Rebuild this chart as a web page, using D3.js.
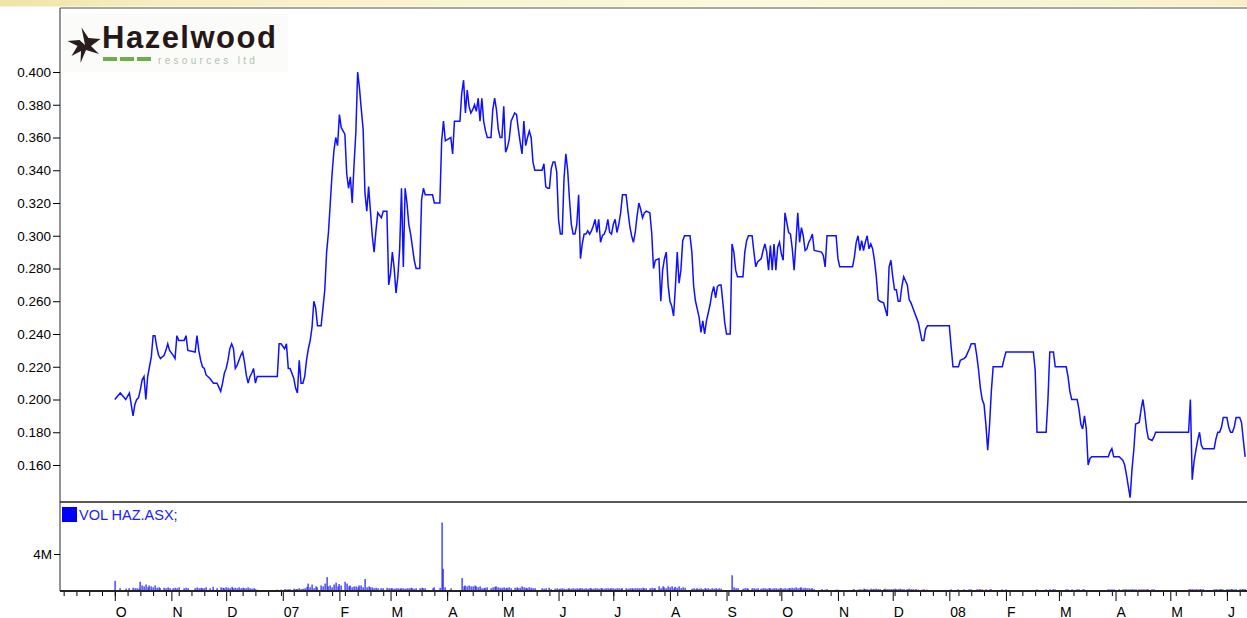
<!DOCTYPE html>
<html><head><meta charset="utf-8">
<script src="https://cdn.jsdelivr.net/npm/d3@7"></script>
<style>html,body{margin:0;padding:0;background:#fff;overflow:hidden}</style>
</head><body>
<svg id="chart" width="1247" height="618"></svg>
<script>
// ---------------- DATA ----------------
const priceDates = [
 "2006-10-01","2006-10-04","2006-10-07","2006-10-09","2006-10-11","2006-10-12","2006-10-13","2006-10-14","2006-10-15","2006-10-16","2006-10-17","2006-10-18","2006-10-19","2006-10-20","2006-10-21","2006-10-22","2006-10-23","2006-10-24","2006-10-25","2006-10-26","2006-10-28","2006-10-29","2006-10-30","2006-10-31",
 "2006-11-02","2006-11-03","2006-11-04","2006-11-05","2006-11-08","2006-11-09","2006-11-10","2006-11-14","2006-11-15","2006-11-16","2006-11-17","2006-11-18","2006-11-19","2006-11-20","2006-11-22","2006-11-24","2006-11-26","2006-11-28","2006-11-29","2006-11-30",
 "2006-12-01","2006-12-02","2006-12-03","2006-12-04","2006-12-05","2006-12-06","2006-12-07","2006-12-08","2006-12-09","2006-12-10","2006-12-11","2006-12-12","2006-12-13","2006-12-14","2006-12-15","2006-12-16","2006-12-17","2006-12-18","2006-12-29","2006-12-30","2006-12-31",
 "2007-01-02","2007-01-03","2007-01-04","2007-01-05","2007-01-07","2007-01-08","2007-01-09","2007-01-10","2007-01-11","2007-01-12","2007-01-13","2007-01-14","2007-01-15","2007-01-16","2007-01-17","2007-01-18","2007-01-19","2007-01-20","2007-01-22","2007-01-23","2007-01-24","2007-01-25","2007-01-26","2007-01-27","2007-01-28","2007-01-29","2007-01-30","2007-01-31",
 "2007-02-01","2007-02-02","2007-02-04","2007-02-05","2007-02-06","2007-02-07","2007-02-08","2007-02-09","2007-02-10","2007-02-11","2007-02-12","2007-02-13","2007-02-14","2007-02-15","2007-02-16","2007-02-17","2007-02-18","2007-02-19","2007-02-20","2007-02-21","2007-02-22","2007-02-24","2007-02-25","2007-02-27","2007-02-28",
 "2007-03-01","2007-03-02","2007-03-03","2007-03-04","2007-03-05","2007-03-06","2007-03-07","2007-03-08","2007-03-09","2007-03-10","2007-03-11","2007-03-12","2007-03-13","2007-03-14","2007-03-15","2007-03-17","2007-03-18","2007-03-19","2007-03-20","2007-03-24","2007-03-25","2007-03-28","2007-03-29","2007-03-30","2007-03-31",
 "2007-04-03","2007-04-04","2007-04-05","2007-04-08","2007-04-09","2007-04-10","2007-04-11","2007-04-12","2007-04-13","2007-04-14","2007-04-15","2007-04-16","2007-04-17","2007-04-18","2007-04-19","2007-04-20","2007-04-21","2007-04-22","2007-04-23","2007-04-25","2007-04-26","2007-04-27","2007-04-28","2007-04-29","2007-04-30",
 "2007-05-01","2007-05-02","2007-05-03","2007-05-04","2007-05-05","2007-05-06","2007-05-08","2007-05-09","2007-05-10","2007-05-11","2007-05-12","2007-05-13","2007-05-14","2007-05-15","2007-05-16","2007-05-17","2007-05-18","2007-05-19","2007-05-23","2007-05-24","2007-05-25","2007-05-26","2007-05-27","2007-05-28","2007-05-29","2007-05-30","2007-05-31",
 "2007-06-01","2007-06-02","2007-06-03","2007-06-04","2007-06-05","2007-06-06","2007-06-07","2007-06-08","2007-06-09","2007-06-10","2007-06-11","2007-06-12","2007-06-13","2007-06-14","2007-06-15","2007-06-16","2007-06-17","2007-06-18","2007-06-19","2007-06-20","2007-06-21","2007-06-22","2007-06-23","2007-06-24","2007-06-25","2007-06-26","2007-06-27","2007-06-28","2007-06-29","2007-06-30",
 "2007-07-01","2007-07-02","2007-07-03","2007-07-04","2007-07-05","2007-07-06","2007-07-08","2007-07-09","2007-07-10","2007-07-11","2007-07-12","2007-07-13","2007-07-14","2007-07-15","2007-07-16","2007-07-17","2007-07-18","2007-07-19","2007-07-21","2007-07-22","2007-07-23","2007-07-24","2007-07-26","2007-07-27","2007-07-28","2007-07-29","2007-07-30","2007-07-31",
 "2007-08-01","2007-08-02","2007-08-03","2007-08-04","2007-08-05","2007-08-06","2007-08-07","2007-08-08","2007-08-09","2007-08-12","2007-08-13","2007-08-14","2007-08-15","2007-08-16","2007-08-17","2007-08-18","2007-08-19","2007-08-20","2007-08-21","2007-08-22","2007-08-23","2007-08-24","2007-08-25","2007-08-26","2007-08-27","2007-08-28","2007-08-29","2007-08-30","2007-08-31",
 "2007-09-01","2007-09-03","2007-09-04","2007-09-05","2007-09-06","2007-09-07","2007-09-10","2007-09-11","2007-09-12","2007-09-13","2007-09-15","2007-09-16","2007-09-17","2007-09-18","2007-09-20","2007-09-21","2007-09-22","2007-09-23","2007-09-24","2007-09-25","2007-09-26","2007-09-27","2007-09-28","2007-09-29","2007-09-30",
 "2007-10-01","2007-10-02","2007-10-03","2007-10-04","2007-10-05","2007-10-06","2007-10-07","2007-10-08","2007-10-09","2007-10-10","2007-10-11","2007-10-12","2007-10-13","2007-10-14","2007-10-15","2007-10-16","2007-10-17","2007-10-18","2007-10-19","2007-10-23","2007-10-24","2007-10-25","2007-10-26","2007-10-31",
 "2007-11-01","2007-11-02","2007-11-09","2007-11-10","2007-11-11","2007-11-12","2007-11-13","2007-11-14","2007-11-15","2007-11-16","2007-11-17","2007-11-18","2007-11-19","2007-11-20","2007-11-21","2007-11-22","2007-11-23","2007-11-24","2007-11-26","2007-11-27","2007-11-28","2007-11-29","2007-11-30",
 "2007-12-01","2007-12-02","2007-12-03","2007-12-04","2007-12-05","2007-12-06","2007-12-07","2007-12-09","2007-12-10","2007-12-11","2007-12-12","2007-12-13","2007-12-14","2007-12-15","2007-12-17","2007-12-18","2007-12-19","2007-12-20",
 "2008-01-01","2008-01-02","2008-01-03","2008-01-06","2008-01-07","2008-01-09","2008-01-10","2008-01-12","2008-01-13","2008-01-15","2008-01-16","2008-01-17","2008-01-18","2008-01-19","2008-01-20","2008-01-21","2008-01-22","2008-01-23","2008-01-24","2008-01-25","2008-01-30","2008-01-31",
 "2008-02-01","2008-02-16","2008-02-17","2008-02-18","2008-02-23","2008-02-24","2008-02-25","2008-02-27","2008-02-28",
 "2008-03-05","2008-03-06","2008-03-07","2008-03-08","2008-03-11","2008-03-12","2008-03-13","2008-03-14","2008-03-15","2008-03-16","2008-03-17","2008-03-18","2008-03-19","2008-03-28","2008-03-29","2008-03-30","2008-03-31",
 "2008-04-03","2008-04-05","2008-04-06","2008-04-07","2008-04-08","2008-04-09","2008-04-10","2008-04-11","2008-04-12","2008-04-14","2008-04-15","2008-04-16","2008-04-17","2008-04-18","2008-04-19","2008-04-21","2008-04-22","2008-04-23",
 "2008-05-11","2008-05-12","2008-05-13","2008-05-14","2008-05-15","2008-05-16","2008-05-17","2008-05-18","2008-05-19","2008-05-25","2008-05-26","2008-05-27","2008-05-28","2008-05-29","2008-05-30",
 "2008-06-01","2008-06-02","2008-06-03","2008-06-04","2008-06-05","2008-06-06","2008-06-08","2008-06-09","2008-06-10","2008-06-11"
];

const prices = [
 .200,.204,.200,.204,.190,.197,.200,.201,.206,.212,.214,.200,.214,.220,.226,.239,.239,.232,.227,.225,.227,.230,.234,.230,
 .227,.225,.239,.236,.236,.239,.230,.229,.239,.230,.224,.220,.219,.215,.213,.210,.210,.205,.210,.216,
 .219,.224,.231,.234,.231,.219,.221,.224,.227,.229,.223,.215,.210,.214,.216,.219,.210,.214,.214,.234,.234,
 .231,.234,.219,.219,.213,.207,.204,.224,.210,.210,.214,.224,.231,.236,.244,.260,.256,.245,.245,.256,.267,.290,.302,.320,.338,.352,.360,.355,
 .374,.366,.362,.338,.329,.336,.320,.343,.363,.400,.390,.377,.365,.326,.315,.330,.315,.300,.290,.303,.314,.311,.315,.315,.270,
 .277,.290,.280,.265,.275,.292,.329,.281,.329,.320,.307,.301,.293,.285,.280,.280,.322,.329,.325,.325,.320,.320,.358,.370,.358,
 .360,.350,.370,.370,.387,.395,.375,.389,.379,.375,.377,.380,.376,.384,.370,.384,.370,.364,.360,.360,.377,.384,.377,.365,.360,
 .360,.379,.351,.354,.359,.370,.375,.374,.365,.357,.350,.370,.355,.360,.364,.360,.345,.340,.340,.344,.330,.329,.329,.341,.345,.345,.339,
 .310,.301,.301,.335,.350,.340,.322,.307,.301,.301,.307,.325,.286,.295,.301,.301,.303,.301,.303,.306,.310,.302,.310,.296,.300,.301,.304,.310,.302,.301,
 .307,.310,.302,.307,.314,.325,.325,.315,.306,.300,.296,.302,.312,.320,.316,.311,.314,.315,.314,.302,.280,.285,.286,.260,.279,.286,.290,.270,
 .260,.257,.251,.269,.290,.271,.279,.297,.300,.300,.290,.269,.260,.255,.250,.241,.248,.240,.248,.253,.258,.265,.269,.262,.269,.270,.270,.259,.247,
 .240,.240,.295,.290,.279,.275,.275,.290,.297,.300,.300,.290,.281,.284,.286,.291,.295,.290,.279,.294,.279,.295,.279,.293,.296,
 .289,.285,.314,.308,.302,.301,.292,.279,.296,.314,.296,.305,.300,.291,.292,.296,.298,.301,.291,.290,.288,.281,.300,.300,
 .286,.281,.281,.287,.296,.300,.291,.297,.291,.296,.300,.292,.295,.292,.285,.275,.261,.260,.259,.255,.251,.281,.285,
 .275,.267,.267,.260,.260,.269,.275,.270,.261,.259,.256,.253,.250,.247,.236,.236,.243,.245,
 .245,.232,.220,.220,.224,.225,.226,.231,.234,.234,.227,.218,.207,.200,.197,.185,.169,.184,.205,.220,.220,.225,
 .229,.229,.218,.180,.180,.200,.229,.229,.220,
 .220,.214,.205,.200,.200,.194,.185,.182,.190,.182,.160,.164,.165,.165,.168,.170,.165,
 .165,.163,.160,.154,.147,.140,.157,.169,.185,.186,.194,.200,.192,.182,.176,.175,.177,.180,
 .180,.200,.151,.162,.169,.175,.180,.172,.170,.170,.176,.180,.180,.183,.189,
 .189,.183,.180,.180,.183,.189,.189,.186,.175,.165
];

// daily volume in millions of shares, same order as priceDates
const volumes = [
 1.1,0.3,0.25,0.3,0.35,0.3,0.3,0.25,1.0,0.6,0.5,0.7,0.4,0.6,0.5,0.4,0.6,0.35,0.4,0.3,0.35,0.3,0.4,0.3,
 0.3,0.35,0.3,0.4,0.3,0.35,0.3,0.3,0.4,0.3,0.35,0.3,0.3,0.4,0.3,0.45,0.3,0.4,0.35,0.3,
 0.4,0.35,0.3,0.45,0.3,0.35,0.3,0.4,0.3,0.35,0.3,0.3,0.4,0.3,0.25,0.3,0.2,0.15,0.15,0,0.15,
 0.2,0.15,0.2,0.2,0.25,0.2,0.2,0.3,0.2,0.25,0.3,0.45,0.8,0.4,0.7,0.3,0.5,0.4,0.6,0.5,0.8,1.5,0.5,0.6,0.4,0.7,0.9,0.5,
 0.75,0.6,1.0,0.8,0.5,0.6,0.4,0.5,0.5,0.4,0.6,0.6,0.4,1.3,0.4,0.5,0.4,0.4,0.3,0.35,0.3,0.3,0.3,0.35,0.3,
 0.3,0.3,0.25,0.3,0.3,0.25,0.3,0.3,0.25,0.3,0.3,0.35,0.3,0.25,0.3,0.3,0.35,0.3,0.3,0.3,0.4,0.35,7.4,2.4,0.4,
 0.3,0,0,0,1.4,0.5,0.6,0.5,0.6,0.5,0.5,0.6,0.5,0.4,0.5,0.3,0.3,0.35,0.4,0.3,0.4,0.45,0.5,0.4,0.35,
 0.35,0.4,0.3,0.35,0.4,0.3,0.35,0.4,0.3,0.35,0.5,0.4,0.35,0.3,0.4,0.35,0.3,0.3,0.3,0.25,0.3,0,0.35,0.2,0,0.25,0.3,
 0.2,0.25,0.3,0.25,0.2,0.25,0.3,0.25,0.3,0.25,0.3,0.25,0.3,0.3,0.25,0.3,0.25,0.3,0.3,0.25,0.3,0.3,0.25,0.3,0.3,0.25,0.3,0.3,0.25,0.3,
 0.3,0.25,0.3,0.3,0.25,0.3,0.3,0.25,0.3,0.3,0.25,0.3,0.3,0.3,0.3,0.35,0.3,0.3,0.3,0.35,0.3,0.3,0.5,0.3,0.5,0.4,0.3,0.5,
 0.4,0.5,0.3,0.45,0.35,0.5,0.3,0.4,0.35,0,0.25,0.3,0.2,0.3,0.25,0.3,0.2,0.3,0.25,0.3,0.2,0.3,0.25,0.3,0.2,0.3,0.25,0,0,
 0,0,1.7,0.4,0.3,0.3,0.25,0.3,0.3,0.25,0.3,0.3,0.25,0.3,0.25,0.3,0.3,0.25,0.3,0.3,0.25,0.3,0.3,0.25,0.3,
 0.3,0.25,0.3,0.25,0.3,0.3,0.35,0.3,0.4,0.3,0.35,0.4,0.3,0.35,0.3,0.3,0.25,0.3,0.2,0.2,0,0.15,0.2,0.15,
 0.15,0,0.15,0.2,0,0.15,0.2,0.15,0.25,0.2,0.2,0.15,0.25,0.2,0.2,0.25,0.2,0.2,0.2,0.25,0.2,0.2,0.2,
 0.2,0.25,0.2,0.2,0.25,0.2,0.2,0.2,0.25,0.2,0.2,0.15,0.2,0.15,0.15,0.2,0,0.15,
 0,0.18,0,0.18,0,0.18,0,0.18,0.18,0,0.18,0.18,0.18,0.18,0,0.18,0,0.18,0.18,0,0.18,0,
 0.18,0,0,0.18,0.18,0,0.18,0.2,0.18,
 0.18,0.18,0,0.18,0.18,0.18,0,0.18,0.18,0,0,0,0,0.18,0.18,0.18,0.18,
 0.18,0.18,0.18,0.18,0.18,0.18,0.2,0.18,0.18,0.18,0.18,0.18,0.18,0.18,0.18,0.18,0.18,0,
 0.18,0.2,0.2,0.18,0.2,0.18,0.2,0.18,0.2,0.18,0.2,0.18,0.2,0.2,0.18,
 0.2,0.18,0.2,0.2,0.18,0.2,0.2,0.18,0.2,0.2
];

const priceTicks = [0.160,0.180,0.200,0.220,0.240,0.260,0.280,0.300,0.320,0.340,0.360,0.380,0.400];
const volumeTicks = [4];
const monthInitials = ["J","F","M","A","M","J","J","A","S","O","N","D"];
const volumeLegend = "VOL HAZ.ASX;";
const brandName = "Hazelwood";
const brandSub = "resources ltd";

// ---------------- CHART ----------------
const svg = d3.select("#chart");
const FONT = "'Liberation Sans', Arial, sans-serif";
const L = 60, R = 1247, T = 8, PB = 502, VB = 591;
const parse = d3.timeParse("%Y-%m-%d");

const x = d3.scaleTime().domain([new Date(2006, 8, 1), new Date(2008, 5, 12)]).range([L, R]);
const y = d3.scaleLinear().domain([0.16, 0.40]).range([465, 72]);
const yv = d3.scaleLinear().domain([0, 4]).range([VB, 554]);

const n = Math.min(priceDates.length, prices.length);
const series = d3.range(n).map(i => ({d: parse(priceDates[i]), p: prices[i], v: i < volumes.length ? volumes[i] : 0}));

// top band
const defs = svg.append("defs");
const g1 = defs.append("linearGradient").attr("id", "band");
[["0%","#eee4a6"],["12%","#f5eec0"],["35%","#f9f4d0"],["60%","#fbf8dc"],["85%","#f8f4d2"],["100%","#f6f0c8"]]
  .forEach(s => g1.append("stop").attr("offset", s[0]).attr("stop-color", s[1]));
svg.append("rect").attr("x", 0).attr("y", 0).attr("width", 1247).attr("height", 6.5).attr("fill", "url(#band)");

defs.append("clipPath").attr("id", "pclip").append("rect")
  .attr("x", L).attr("y", T).attr("width", R - L).attr("height", PB - T);

// frame
svg.append("line").attr("x1", L).attr("x2", R).attr("y1", 8).attr("y2", 8).attr("stroke", "#8a8a8a").attr("stroke-width", 1.6);
svg.append("line").attr("x1", L).attr("x2", L).attr("y1", 8).attr("y2", VB).attr("stroke", "#666").attr("stroke-width", 1.4);

// logo
const logo = svg.append("g");
logo.append("rect").attr("x", 62).attr("y", 14).attr("width", 226).attr("height", 58).attr("fill", "#fbfbfa");
logo.append("path")
  .attr("d", "M85,45 L81.5,27.5 L88.5,38 L100.5,39 L91,46 L99,54 L86,50 L80.5,63 L81,51 L71.5,56 L77.5,46 L67.5,41 L79.5,40 Z")
  .attr("fill", "#2a1d1d");
logo.append("text").attr("x", 102).attr("y", 48).attr("font-family", FONT).attr("font-weight", "bold")
  .attr("font-size", 31).attr("fill", "#261818").attr("letter-spacing", 1.5).text(brandName);
[103, 120, 137].forEach(xx => logo.append("rect").attr("x", xx).attr("y", 57).attr("width", 14).attr("height", 4).attr("fill", "#6ab04a"));
logo.append("text").attr("x", 158).attr("y", 64).attr("font-family", FONT).attr("font-size", 10)
  .attr("fill", "#b3c1b1").attr("letter-spacing", 3.3).text(brandSub);

// price line
const line = d3.line().x(d => x(d.d)).y(d => y(d.p));
svg.append("path").datum(series).attr("clip-path", "url(#pclip)")
  .attr("d", line).attr("fill", "none").attr("stroke", "#1010ff").attr("stroke-width", 1.5)
  .attr("stroke-linejoin", "miter");

// price axis
const ya = svg.append("g").attr("transform", `translate(${L},0)`)
  .call(d3.axisLeft(y).tickValues(priceTicks).tickFormat(d3.format(".3f")).tickSize(7).tickPadding(2));
ya.select(".domain").remove();
ya.selectAll("text").attr("font-family", FONT).attr("font-size", 13.5).attr("fill", "#000");
ya.selectAll("line").attr("stroke", "#000");

// separators
svg.append("line").attr("x1", L).attr("x2", R).attr("y1", PB).attr("y2", PB).attr("stroke", "#222").attr("stroke-width", 1.6);

// volume legend
svg.append("rect").attr("x", 62).attr("y", 507).attr("width", 15).attr("height", 15).attr("fill", "#0000ff");
svg.append("text").attr("x", 79).attr("y", 520).attr("font-family", FONT).attr("font-size", 14.5)
  .attr("fill", "#2020ff").text(volumeLegend);

// volume bars
svg.append("g").selectAll("rect").data(series.filter(s => s.v > 0)).join("rect")
  .attr("x", d => Math.round(x(d.d)) - 0.5).attr("width", 1.2)
  .attr("y", d => yv(d.v)).attr("height", d => VB - yv(d.v)).attr("fill", "#1a1aff");

// volume axis
const va = svg.append("g").attr("transform", `translate(${L},0)`)
  .call(d3.axisLeft(yv).tickValues(volumeTicks).tickFormat(d => d + "M").tickSize(6).tickPadding(2));
va.select(".domain").remove();
va.selectAll("text").attr("font-family", FONT).attr("font-size", 13.5).attr("fill", "#000");
va.selectAll("line").attr("stroke", "#000");

// bottom time axis
const weeks = svg.append("g").attr("transform", `translate(0,${VB})`)
  .call(d3.axisBottom(x).ticks(d3.timeSunday.every(1)).tickSize(5).tickFormat(""));
weeks.select(".domain").remove();
weeks.selectAll("line").attr("stroke", "#000");

const monthTicks = x.ticks(d3.timeMonth.every(1)).filter(d => x(d) > L + 3);
const months = svg.append("g").attr("transform", `translate(0,${VB})`)
  .call(d3.axisBottom(x).tickValues(monthTicks).tickSize(10)
    .tickFormat(d => d.getMonth() === 0 ? d3.timeFormat("%y")(d) : monthInitials[d.getMonth()]));
months.select(".domain").remove();
months.selectAll("line").attr("stroke", "#000");
months.selectAll("text").attr("font-family", FONT).attr("font-size", 14).attr("fill", "#000")
  .attr("text-anchor", "start").attr("dy", null).attr("y", 25.5).attr("x", 0.5);

svg.append("line").attr("x1", L).attr("x2", R).attr("y1", VB).attr("y2", VB).attr("stroke", "#222").attr("stroke-width", 1.8);
</script>
</body></html>
